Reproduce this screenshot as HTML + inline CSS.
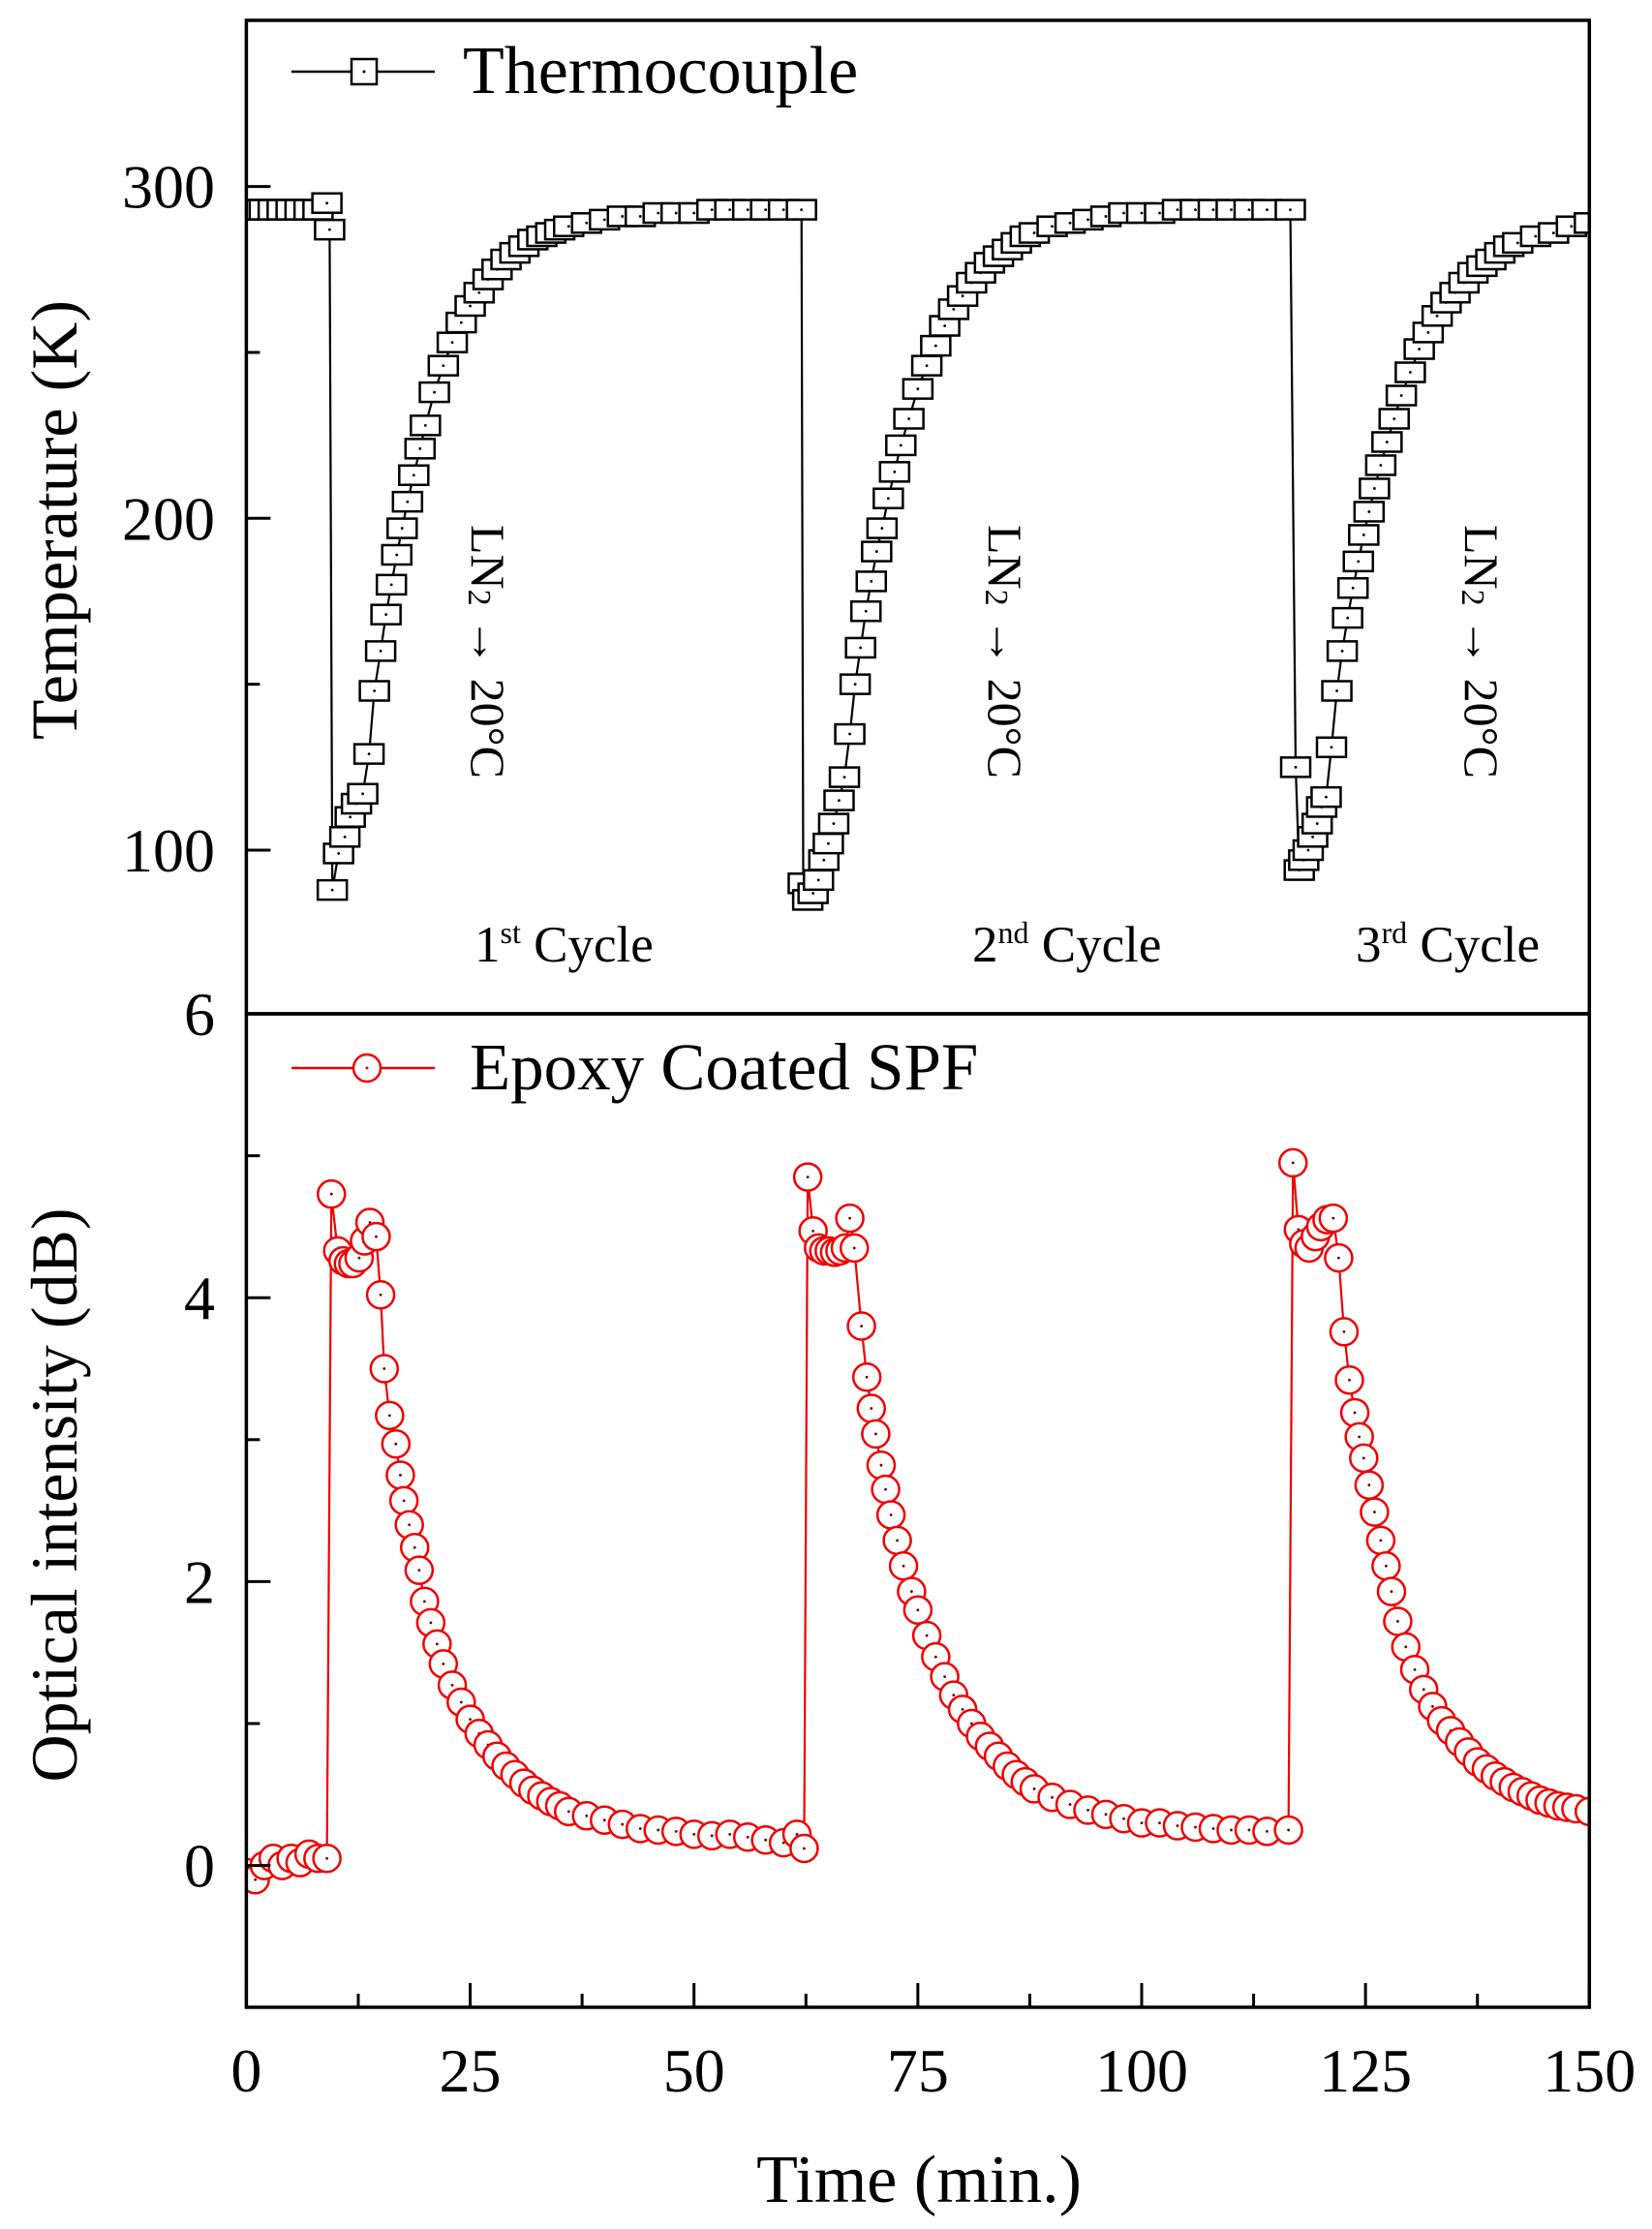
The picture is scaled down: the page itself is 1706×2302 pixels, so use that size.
<!DOCTYPE html>
<html><head><meta charset="utf-8"><title>Thermocouple and optical intensity vs time</title>
<style>html,body{margin:0;padding:0;background:#fff}svg{display:block}text{font-family:"Liberation Serif",serif}</style>
</head><body>
<svg id="chart" xmlns="http://www.w3.org/2000/svg" width="1706" height="2302" viewBox="0 0 1706 2302">
<defs>
<clipPath id="clipTop"><rect x="254" y="21" width="1387" height="1026"/></clipPath>
<clipPath id="clipBot"><rect x="254" y="1047" width="1387" height="1026"/></clipPath>
</defs>
<g id="marksTop" clip-path="url(#clipTop)"></g>
<g id="marksBot" clip-path="url(#clipBot)"></g>
<g id="axes"></g>
<text x="56" y="537" font-size="68" text-anchor="middle" dominant-baseline="central" transform="rotate(-90 56 537)">Temperature (K)</text>
<text x="56" y="1544" font-size="68" text-anchor="middle" dominant-baseline="central" transform="rotate(-90 56 1544)">Optical intensity (dB)</text>
<text x="949" y="2274" font-size="70" text-anchor="middle">Time (min.)</text>
<g>
<line x1="301" y1="74" x2="449" y2="74" stroke="#000" stroke-width="2.5"/>
<rect x="363" y="61" width="26" height="26" fill="#fff" stroke="#000" stroke-width="2.5"/>
<circle cx="376" cy="74" r="1.5" fill="#000"/>
<text x="478" y="96" font-size="70">Thermocouple</text>
</g>
<g>
<line x1="301" y1="1103" x2="449" y2="1103" stroke="#e00" stroke-width="2.5"/>
<circle cx="379" cy="1103" r="14" fill="#fff" stroke="#e00" stroke-width="2.5"/>
<circle cx="379" cy="1103" r="1.5" fill="#e00"/>
<text x="485" y="1125" font-size="69">Epoxy Coated SPF</text>
</g>
<g font-size="50">
<text x="504" y="673" text-anchor="middle" dominant-baseline="central" transform="rotate(90 504 673)">LN<tspan font-size="34" dy="9">2</tspan><tspan dy="-9"> → 20°C</tspan></text>
<text x="1038" y="673" text-anchor="middle" dominant-baseline="central" transform="rotate(90 1038 673)">LN<tspan font-size="34" dy="9">2</tspan><tspan dy="-9"> → 20°C</tspan></text>
<text x="1530" y="673" text-anchor="middle" dominant-baseline="central" transform="rotate(90 1530 673)">LN<tspan font-size="34" dy="9">2</tspan><tspan dy="-9"> → 20°C</tspan></text>
</g>
<g font-size="53">
<text x="490" y="993">1<tspan font-size="32" dy="-19">st</tspan><tspan dy="19"> Cycle</tspan></text>
<text x="1004" y="993">2<tspan font-size="32" dy="-19">nd</tspan><tspan dy="19"> Cycle</tspan></text>
<text x="1400" y="993">3<tspan font-size="32" dy="-19">rd</tspan><tspan dy="19"> Cycle</tspan></text>
</g>
</svg>
<script>
const tempTimes = [0,1,2,3,4,5,6,7,8,9,9.3,9.6,10.3,11,11.6,12.3,13,13.7,14.3,15,15.6,16.2,16.8,17.4,18,18.7,19.4,20,21,22,23,24,25,26,27,28,29,30,31,32,33,34,35,36,38,40,42,44,46,48,50,52,54,56,58,60,62,
62.2,62.7,63.3,63.9,64.5,65,65.6,66.2,66.8,67.4,68,68.6,69.2,69.8,70.4,71,71.7,72.4,73.1,74,75,76,77,78,79,80,81,82,83,84,85,86,87,88,90,92,94,96,98,100,102,104,106,108,110,112,114,116.6,
117.2,117.6,118.1,118.6,119.1,119.6,120.1,120.6,121.2,121.8,122.4,123,123.6,124.2,124.8,125.4,126,126.7,127.4,128.2,129,130,131,132,133,134,135,136,137,138,139,140,141,142,144,146,148,150];
const tempValues = [293,293,293,293,293,293,293,293,293,295,287,88,99,104,110,114,117,129,148,160,171,180,189,197,205,213,221,228,238,246,253,259,264,268,272,275,278,280,282,284,285,286,287,288,289,290,291,291,292,292,292,293,293,293,293,293,293,
90,85,87,91,97,102,108,115,122,135,150,161,172,181,190,197,206,214,222,230,239,246,252,258,263,267,271,274,277,279,281,283,285,286,288,289,290,291,292,292,292,293,293,293,293,293,293,293,
125,94,97,100,104,108,113,116,131,148,160,170,179,187,195,202,209,216,223,230,237,244,251,256,261,265,268,271,274,276,278,280,282,283,285,286,288,289];
const optTimes = [0,1,2,3,4,5,6,7,8,9,9.5,10.2,10.8,11.4,11.9,12.6,13.2,13.8,14.5,15,15.4,16,16.7,17.2,17.6,18.2,18.8,19.3,19.9,20.6,21.3,22,23,24,25,26,27,28,29,30,31,32,33,34,35,36,38,40,42,44,46,48,50,52,54,56,58,60,61.5,62.3,
62.7,63.3,63.9,64.5,65.1,65.7,66.3,66.9,67.4,67.9,68.7,69.3,69.8,70.3,70.9,71.4,72,72.7,73.4,74.3,75,76,77,78,79,80,81,82,83,84,85,86,87,88,90,92,94,96,98,100,102,104,106,108,110,112,114,116.4,
116.9,117.5,118.1,118.7,119.4,120,120.7,121.4,122,122.6,123.2,123.8,124.3,124.8,125.4,126,126.7,127.3,127.9,128.6,129.5,130.5,131.5,132.5,133.5,134.5,135.5,136.5,137.5,138.5,139.5,140.5,141.5,142.5,143.5,144.5,145.5,146.5,147.5,148.5,150];
const optValues = [-0.05,-0.1,0.0,0.05,0.0,0.05,0.02,0.08,0.05,0.05,4.73,4.33,4.26,4.24,4.24,4.28,4.4,4.53,4.43,4.02,3.5,3.17,2.97,2.75,2.57,2.4,2.24,2.08,1.86,1.71,1.56,1.42,1.27,1.15,1.03,0.93,0.85,0.77,0.7,0.64,0.58,0.53,0.49,0.45,0.42,0.38,0.35,0.32,0.29,0.26,0.25,0.24,0.22,0.21,0.22,0.2,0.18,0.16,0.22,0.12,
4.85,4.47,4.35,4.33,4.33,4.32,4.33,4.35,4.56,4.35,3.8,3.44,3.22,3.04,2.82,2.65,2.47,2.29,2.11,1.93,1.8,1.62,1.47,1.33,1.2,1.1,1.0,0.91,0.84,0.77,0.7,0.64,0.59,0.54,0.48,0.43,0.39,0.36,0.33,0.3,0.3,0.28,0.27,0.26,0.25,0.25,0.24,0.25,
4.95,4.48,4.38,4.35,4.43,4.5,4.55,4.56,4.28,3.76,3.42,3.19,3.02,2.87,2.68,2.49,2.29,2.11,1.93,1.72,1.54,1.38,1.24,1.12,1.02,0.95,0.87,0.8,0.73,0.68,0.63,0.59,0.55,0.52,0.49,0.46,0.44,0.42,0.41,0.4,0.38];
const xTicks = [0,25,50,75,100,125,150];
const tempTicks = [100,200,300];
const optTicks = [0,2,4,6];

const NS = "http://www.w3.org/2000/svg";
const X0 = 254.4, X1 = 1641.3;
function xs(t){ return X0 + (t - 0) / 150 * (X1 - X0); }
function yT(v){ return 878 - (v - 100) * 3.427; }
function yO(v){ return 1926.6 - v * 146.6; }
function mk(tag, attrs, parent){ const e = document.createElementNS(NS, tag); for (const k in attrs) e.setAttribute(k, attrs[k]); parent.appendChild(e); return e; }

const gT = document.getElementById('marksTop');
const gB = document.getElementById('marksBot');
const gA = document.getElementById('axes');

let d = '';
tempTimes.forEach((t, i) => { d += (i ? 'L' : 'M') + xs(t).toFixed(1) + ' ' + yT(tempValues[i]).toFixed(1); });
const lt = mk('path', {d: d, fill: 'none', stroke: '#000', 'stroke-width': 2.2}, gT);


tempTimes.forEach((t, i) => {
  const cx = xs(t), cy = yT(tempValues[i]);
  const r = mk('rect', {x: cx - 15, y: cy - 10, width: 30, height: 20, fill: '#fff', stroke: '#000', 'stroke-width': 2.5}, gT);
  
  
  mk('circle', {cx: cx, cy: cy, r: 1.4, fill: '#000'}, gT);
});

d = '';
optTimes.forEach((t, i) => { d += (i ? 'L' : 'M') + xs(t).toFixed(1) + ' ' + yO(optValues[i]).toFixed(1); });
const lo = mk('path', {d: d, fill: 'none', stroke: '#e00', 'stroke-width': 2.2}, gB);


optTimes.forEach((t, i) => {
  const cx = xs(t), cy = yO(optValues[i]);
  const c = mk('circle', {cx: cx, cy: cy, r: 14, fill: '#fff', stroke: '#e00', 'stroke-width': 2.5}, gB);
  
  
  mk('circle', {cx: cx, cy: cy, r: 1.4, fill: '#600'}, gB);
});

const f1 = mk('rect', {x: X0, y: 21, width: X1 - X0, height: 1026, fill: 'none', stroke: '#000', 'stroke-width': 3.5}, gA);


const f2 = mk('rect', {x: X0, y: 1047, width: X1 - X0, height: 1026, fill: 'none', stroke: '#000', 'stroke-width': 3.5}, gA);



xTicks.forEach(v => {
  const x = xs(v);
  mk('line', {x1: x, y1: 2073, x2: x, y2: 2048, stroke: '#000', 'stroke-width': 3}, gA);
  const tx = mk('text', {x: x, y: 2160, 'font-size': 64, 'text-anchor': 'middle'}, gA);
  tx.textContent = v;
  
  
});
for (let v = 12.5; v < 150; v += 25) { const x = xs(v); mk('line', {x1: x, y1: 2073, x2: x, y2: 2059, stroke: '#000', 'stroke-width': 3}, gA); }

tempTicks.forEach(v => {
  const y = yT(v);
  mk('line', {x1: X0, y1: y, x2: X0 + 25, y2: y, stroke: '#000', 'stroke-width': 3}, gA);
  const tx = mk('text', {x: 222, y: y + 22, 'font-size': 64, 'text-anchor': 'end'}, gA);
  tx.textContent = v;
  
  
});
[150, 250].forEach(v => { const y = yT(v); mk('line', {x1: X0, y1: y, x2: X0 + 14, y2: y, stroke: '#000', 'stroke-width': 3}, gA); });

optTicks.forEach(v => {
  const y = yO(v);
  mk('line', {x1: X0, y1: y, x2: X0 + 25, y2: y, stroke: '#000', 'stroke-width': 3}, gA);
  const tx = mk('text', {x: 222, y: y + 22, 'font-size': 64, 'text-anchor': 'end'}, gA);
  tx.textContent = v;
  
  
});
[1, 3, 5].forEach(v => { const y = yO(v); mk('line', {x1: X0, y1: y, x2: X0 + 14, y2: y, stroke: '#000', 'stroke-width': 3}, gA); });
</script>
</body></html>
